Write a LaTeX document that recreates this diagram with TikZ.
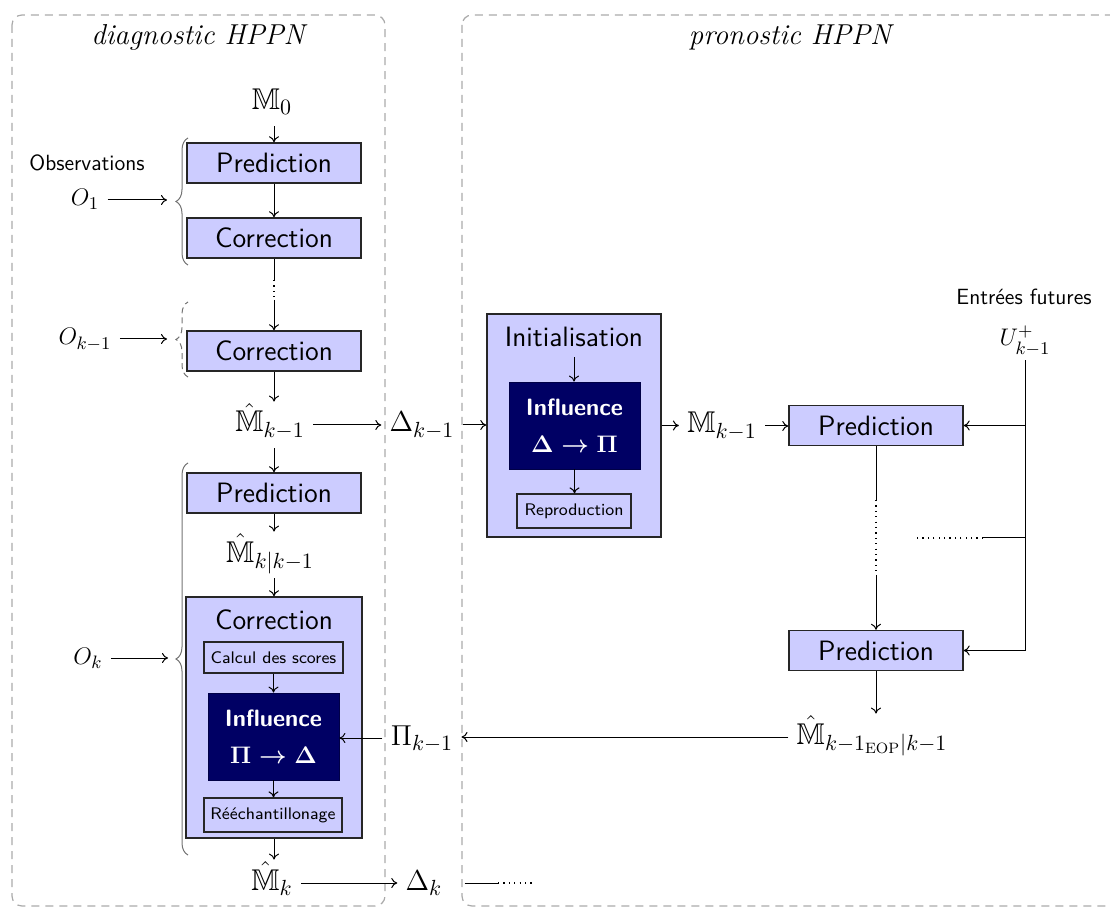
\documentclass[tikz,border=0pt]{standalone}
\usepackage{fontspec}
\usepackage{amsmath,amssymb}
\usetikzlibrary{decorations.pathreplacing,arrows.meta}
\definecolor{boxblue}{RGB}{204,204,255}
\definecolor{navybox}{RGB}{0,0,100}
\definecolor{framegray}{RGB}{170,170,170}
\begin{document}
\begin{tikzpicture}[x=0.5pt,y=-0.5pt,
  box/.style={draw=black!85, fill=boxblue, line width=0.7pt, inner sep=0pt, font=\sffamily\fontsize{14}{16}\selectfont, minimum width=87pt, minimum height=20pt},
  sbox/.style={draw=black!85, fill=boxblue, line width=0.6pt, inner sep=0pt, font=\sffamily\fontsize{8.4}{10}\selectfont},
  dbox/.style={fill=navybox, draw=navybox!70!black, text=white, inner sep=0pt, align=center, font=\sffamily\bfseries\fontsize{11.8}{18.5}\selectfont, minimum width=65.5pt, minimum height=43.5pt},
  big/.style={draw=black!85, fill=boxblue, line width=0.7pt, inner sep=0pt},
  ttl/.style={inner sep=0pt, font=\sffamily\fontsize{14}{16}\selectfont},
  ml/.style={inner sep=4pt, font=\fontsize{15}{18}\selectfont, text height=11pt, text depth=4pt},
  sl/.style={inner sep=4pt, font=\fontsize{12.5}{15}\selectfont, text height=9pt, text depth=3pt},
  tl/.style={inner sep=0pt, font=\sffamily\fontsize{11}{13}\selectfont},
  frm/.style={draw=framegray, line width=0.6pt, dash pattern=on 4pt off 3pt, rounded corners=5pt},
  arr/.style={-{To[length=3pt,width=5pt]}, line width=0.5pt},
  ln/.style={line width=0.5pt},
  dot/.style={line width=0.6pt, dash pattern=on 0.6pt off 2.1pt},
  brc/.style={draw=black!55, line width=0.5pt, decorate, decoration={brace,amplitude=6pt}},
]
\clip (0,0) rectangle (1110,909);
% frames
\draw[frm] (12,15) rectangle (385,906);
\draw[frm] (462,15) rectangle (1140,906);
\node[font=\itshape\fontsize{14.4}{17}\selectfont] (t1) at (198,37) {diagnostic HPPN};
\node[font=\itshape\fontsize{14.4}{17}\selectfont] (t2) at (790,37) {pronostic HPPN};

% left column
\node[ml] (M0) at (272,103) {$\mathbb{M}_0$};
\node[box] (P1) at (274,163) {Prediction};
\node[box] (C1) at (274,238) {Correction};
\node[box] (C2) at (274,351) {Correction};
\node[ml] (Mk1) at (270,425) {$\hat{\mathbb{M}}_{k-1}$};
\node[box] (P3) at (274,493) {Prediction};
\node[ml] (Mkk) at (270,555) {$\hat{\mathbb{M}}_{k|k-1}$};
\node[big, minimum width=88pt, minimum height=120.5pt] (CB) at (274,717.5) {};
\node[ttl] (CBt) at (274,620) {Correction};
\node[sbox, minimum width=69.5pt, minimum height=15.5pt] (calc) at (273.5,657.5) {Calcul des scores};
\node[dbox] (I1) at (273.5,736.5) {Influence\\$\boldsymbol{\Pi\rightarrow\Delta}$};
\node[sbox, minimum width=69pt, minimum height=17pt] (re) at (273,815) {Rééchantillonage};
\node[ml] (Mk) at (272,883) {$\hat{\mathbb{M}}_k$};
\node[ml] (Dk) at (424,883) {$\Delta_k$};
\node[ml] (Dk1) at (422,425) {$\Delta_{k-1}$};
\node[ml] (Pk1) at (422,738) {$\Pi_{k-1}$};

% observations
\node[tl] (obs) at (87,163) {Observations};
\node[sl] (O1) at (85,200) {$O_1$};
\node[sl] (Ok1) at (85,339) {$O_{k-1}$};
\node[sl] (Ok) at (88,658) {$O_k$};
\coordinate (b1) at (167,200);
\coordinate (b2) at (167,339);
\coordinate (b3) at (168,658);
\draw[arr] (O1.east) -- (b1);
\draw[arr] (Ok1.east) -- (b2);
\draw[arr] (Ok.east) -- (b3);
\draw[brc] (188,265) -- (188,138);
\draw[brc, dash pattern=on 3pt off 2pt] (188,377) -- (188,302);
\draw[brc] (188,855) -- (188,463);

% right part
\node[big, minimum width=87pt, minimum height=111.5pt] (IB) at (574,425.5) {};
\node[ttl] (IBt) at (574,337) {Initialisation};
\node[dbox] (I2) at (574.5,425.5) {Influence\\$\boldsymbol{\Delta\rightarrow\Pi}$};
\node[sbox, minimum width=57pt, minimum height=17pt] (rep) at (574,511) {Reproduction};
\node[ml] (Mr) at (722,426) {$\mathbb{M}_{k-1}$};
\node[box] (PR1) at (876,425.5) {Prediction};
\node[box] (PR2) at (876,650.5) {Prediction};
\node[tl] (ef) at (1024,297) {Entrées futures};
\node[sl] (U) at (1025,340) {$U^{+}_{k-1}$};
\node[ml] (EOP) at (872,737) {$\hat{\mathbb{M}}_{{k-1}_{\mathrm{EOP}}|k-1}$};

% left edges
\draw[arr] (P1.north |- M0.south) -- (P1.north);
\draw[arr] (P1.south) -- (C1.north);
\coordinate (d1) at (274,280);
\coordinate (d2) at (274,300);
\draw[ln] (C1.south) -- (d1);
\draw[dot] (d1) -- (d2);
\draw[arr] (d2) -- (C2.north);
\draw[arr] (C2.south) -- (C2.south |- Mk1.north);
\draw[arr] (P3.north |- Mk1.south) -- (P3.north);
\draw[arr] (P3.south) -- (P3.south |- Mkk.north);
\draw[arr] (CB.north |- Mkk.south) -- (CB.north);
\draw[arr] (calc.south) -- (calc.south |- I1.north);
\draw[arr] (I1.south) -- (I1.south |- re.north);
\draw[arr] (CB.south) -- (CB.south |- Mk.north);
\draw[arr] (Mk.east) -- (Mk.east -| Dk.west);
\coordinate (dk1) at (498,883);
\coordinate (dk2) at (532,883);
\draw[ln, shorten <=7pt] (Dk.east) -- (dk1);
\draw[dot] (dk1) -- (dk2);

% middle edges
\draw[arr] (Mk1.east) -- (Mk1.east -| Dk1.west);
\draw[arr] (Dk1.east) -- (Dk1.east -| IB.west);
\draw[arr] (IB.east) -- (IB.east -| Mr.west);
\draw[arr] (Mr.east) -- (Mr.east -| PR1.west);
\draw[arr, shorten <=5pt] (IBt.south) -- (IBt.south |- I2.north);
\draw[arr] (I2.south) -- (I2.south |- rep.north);

% future inputs
\draw[arr] (U.south) -- (U.south |- PR2.east) -- (PR2.east);
\draw[arr] (U.south |- PR1.east) -- (PR1.east);
\coordinate (br) at (1025,538);
\coordinate (bs) at (983,538);
\coordinate (bd) at (915,538);
\draw[ln] (br) -- (bs);
\draw[dot] (bs) -- (bd);

\coordinate (r1) at (876,500);
\coordinate (r2) at (876,575);
\draw[ln] (PR1.south) -- (r1);
\draw[dot] (r1) -- (r2);
\draw[arr] (r2) -- (PR2.north);
\draw[arr] (PR2.south) -- (PR2.south |- EOP.north);
\draw[arr] (EOP.west) -- (EOP.west -| Pk1.east);
\draw[arr] (Pk1.west) -- (Pk1.west -| I1.east);
\end{tikzpicture}
\end{document}
